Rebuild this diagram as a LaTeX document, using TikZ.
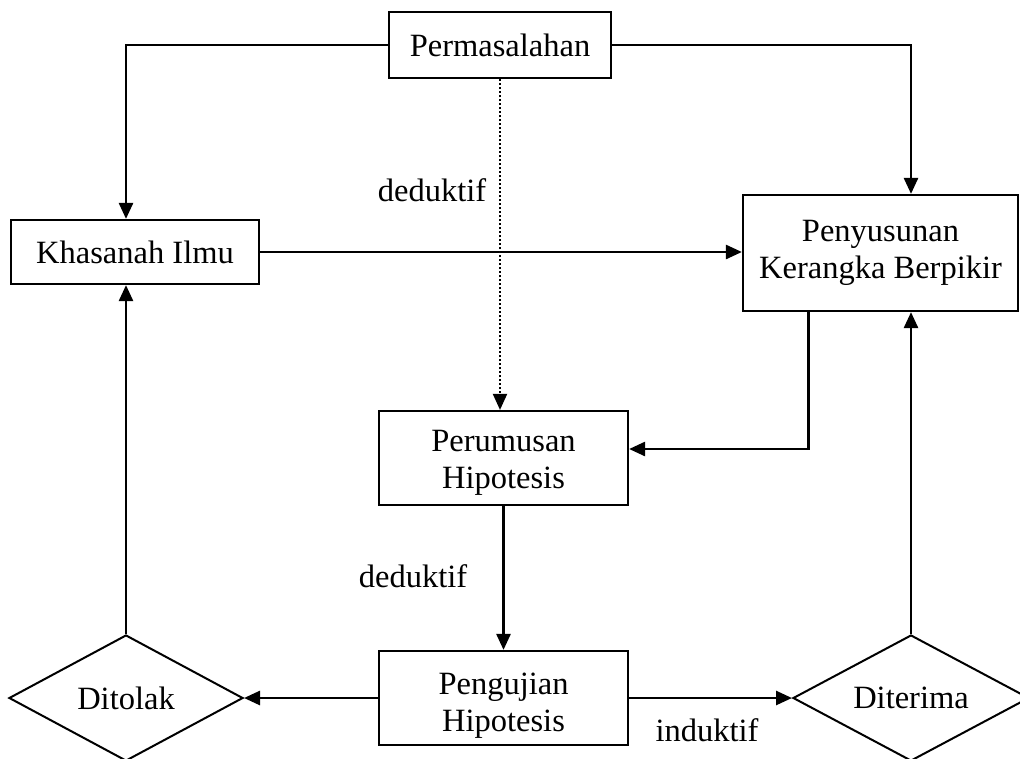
\documentclass[tikz,border=0pt]{standalone}
\usepackage{fontspec}
\setmainfont{Liberation Serif}
\usetikzlibrary{shapes.geometric,arrows.meta}
\tikzset{
  kotak/.style={draw, line width=2.2pt, align=center, inner sep=0pt},
  belah/.style={draw, diamond, line width=2pt, aspect=1.85, inner sep=0pt, minimum height=126pt},
  panah/.style={-{Triangle[length=16pt,width=14pt]}, line width=2.6pt},
  teks/.style={inner sep=0pt}
}
\begin{document}
\begin{tikzpicture}[x=1pt, y=-1pt, every node/.style={font=\fontsize{32.5}{37}\selectfont}]
   \clip (0,0) rectangle (1020,758);
   \fill[white] (0,0) rectangle (1020,758);
   \node[kotak, minimum width=222pt, minimum height=66pt]  (perm)   at (500,45)    {Permasalahan};
   \node[kotak, minimum width=248pt, minimum height=64pt]  (khas)   at (135,252)   {Khasanah Ilmu};
   \node[kotak, minimum width=275pt, minimum height=116pt] (peny)   at (880.5,253) {Penyusunan\\Kerangka Berpikir};
   \node[kotak, minimum width=249pt, minimum height=94pt]  (perum)  at (503.5,458) {\rule{0pt}{30pt}Perumusan\\Hipotesis};
   \node[kotak, minimum width=249pt, minimum height=94pt]  (penguj) at (503.5,698) {\rule{0pt}{36pt}Pengujian\\Hipotesis};
   \node[belah, minimum width=234pt] (tolak)  at (126,698) {Ditolak};
   \node[belah, minimum width=236pt] (terima) at (911,698) {Diterima};
   \node[teks] (ded1) at (432,190) {deduktif};
   \node[teks] (ded2) at (413,576) {deduktif};
   \node[teks] (ind)  at (707,730) {induktif};
   \draw[panah] (perm.west) -| (tolak.north |- khas.north);
   \draw[panah] (perm.east) -| (terima.north |- peny.north);
   \draw[panah] (khas.east) -- (peny.west |- khas.east);
   \draw[line width=2pt, dotted, -{Triangle[length=16pt,width=14pt]}] (perm.south) -- (perm.south |- perum.north);
   \draw[panah] ([xshift=-72pt]peny.south) |- ([yshift=9pt]perum.east);
   \draw[panah] (perum.south) -- (penguj.north);
   \draw[panah] (penguj.west) -- (tolak.east);
   \draw[panah] (penguj.east) -- (terima.west);
   \draw[panah] (tolak.north) -- (tolak.north |- khas.south);
   \draw[panah] (terima.north) -- (terima.north |- peny.south);
\end{tikzpicture}
\end{document}
